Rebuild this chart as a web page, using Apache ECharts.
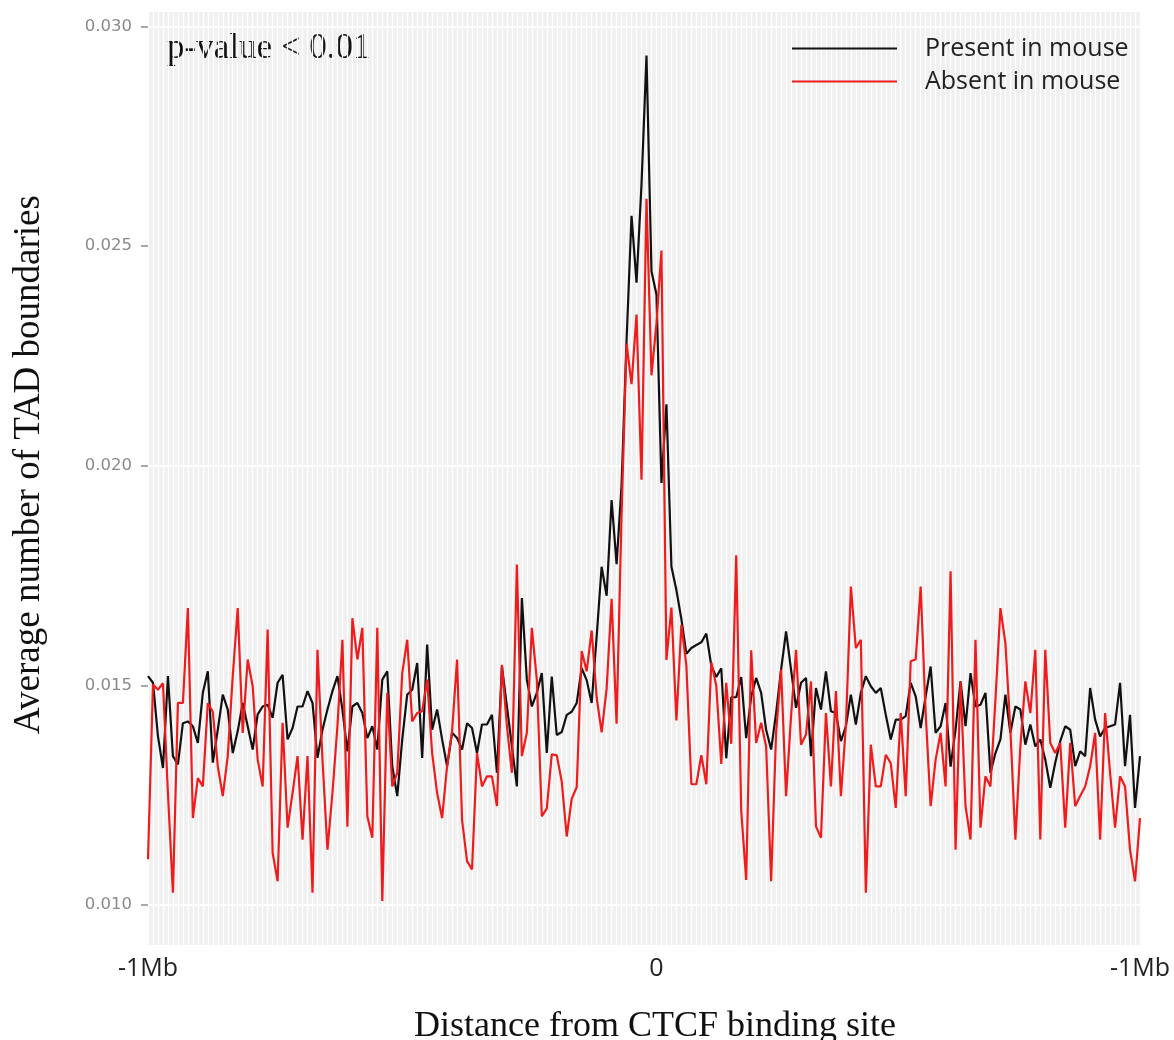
<!DOCTYPE html>
<html>
<head>
<meta charset="utf-8">
<script src="https://cdn.jsdelivr.net/npm/echarts@6/dist/echarts.min.js"></script>
<style>
  html, body { margin: 0; padding: 0; background: #ffffff; }
  #chart { width: 1174px; height: 1040px; }
</style>
</head>
<body>
<div id="chart"></div>
<script>
// ---- data ----
const presentInMouse = [
  0.01521,0.01506,0.01384,0.01312,0.01521,0.01339,0.01320,0.01414,0.01418,0.01407,
  0.01369,0.01483,0.01532,0.01324,0.01399,0.01479,0.01445,0.01346,0.01396,0.01460,
  0.01407,0.01354,0.01434,0.01452,0.01456,0.01426,0.01506,0.01524,0.01377,0.01403,
  0.01452,0.01452,0.01487,0.01460,0.01335,0.01399,0.01445,0.01487,0.01521,0.01445,
  0.01350,0.01452,0.01460,0.01437,0.01380,0.01407,0.01354,0.01513,0.01532,0.01316,
  0.01248,0.01377,0.01479,0.01490,0.01551,0.01335,0.01593,0.01399,0.01445,0.01377,
  0.01316,0.01392,0.01380,0.01354,0.01414,0.01403,0.01346,0.01411,0.01411,0.01433,
  0.01301,0.01543,0.01452,0.01361,0.01270,0.01699,0.01513,0.01452,0.01483,0.01528,
  0.01346,0.01520,0.01387,0.01394,0.01433,0.01440,0.01460,0.01539,0.01512,0.01460,
  0.01611,0.01770,0.01704,0.01922,0.01776,0.01955,0.02285,0.02569,0.02417,0.02641,
  0.02934,0.02443,0.02390,0.01961,0.02140,0.01770,0.01717,0.01651,0.01572,0.01585,
  0.01592,0.01598,0.01618,0.01545,0.01519,0.01539,0.01334,0.01473,0.01473,0.01519,
  0.01380,0.01474,0.01517,0.01483,0.01399,0.01354,0.01437,0.01536,0.01623,0.01536,
  0.01449,0.01506,0.01517,0.01339,0.01494,0.01445,0.01532,0.01441,0.01437,0.01373,
  0.01407,0.01479,0.01411,0.01483,0.01521,0.01498,0.01483,0.01494,0.01433,0.01377,
  0.01422,0.01422,0.01430,0.01506,0.01475,0.01403,0.01475,0.01543,0.01392,0.01407,
  0.01460,0.01315,0.01399,0.01509,0.01407,0.01528,0.01452,0.01456,0.01483,0.01301,
  0.01346,0.01377,0.01479,0.01392,0.01452,0.01445,0.01365,0.01411,0.01361,0.01377,
  0.01331,0.01267,0.01324,0.01373,0.01407,0.01399,0.01316,0.01350,0.01339,0.01494,
  0.01422,0.01384,0.01403,0.01407,0.01411,0.01506,0.01316,0.01433,0.01221,0.01339
];
const absentInMouse = [
  0.01104,0.01502,0.01490,0.01505,0.01255,0.01028,0.01460,0.01460,0.01676,0.01198,
  0.01289,0.01270,0.01460,0.01440,0.01316,0.01248,0.01339,0.01521,0.01676,0.01392,
  0.01559,0.01498,0.01331,0.01270,0.01627,0.01119,0.01054,0.01415,0.01176,0.01255,
  0.01339,0.01149,0.01339,0.01028,0.01581,0.01331,0.01126,0.01255,0.01407,0.01604,
  0.01178,0.01653,0.01559,0.01631,0.01202,0.01153,0.01631,0.01009,0.01483,0.01270,
  0.01301,0.01528,0.01604,0.01418,0.01437,0.01441,0.01513,0.01346,0.01255,0.01198,
  0.01316,0.01396,0.01559,0.01194,0.01100,0.01081,0.01346,0.01270,0.01293,0.01293,
  0.01225,0.01547,0.01407,0.01301,0.01775,0.01339,0.01392,0.01631,0.01513,0.01202,
  0.01220,0.01343,0.01341,0.01281,0.01156,0.01242,0.01268,0.01578,0.01532,0.01625,
  0.01473,0.01393,0.01492,0.01697,0.01413,0.01889,0.02278,0.02186,0.02344,0.01968,
  0.02608,0.02206,0.02324,0.02490,0.01558,0.01677,0.01420,0.01638,0.01545,0.01275,
  0.01275,0.01341,0.01275,0.01552,0.01499,0.01321,0.01506,0.01367,0.01796,0.01215,
  0.01057,0.01580,0.01369,0.01415,0.01361,0.01054,0.01392,0.01536,0.01248,0.01430,
  0.01581,0.01365,0.01388,0.01509,0.01179,0.01153,0.01437,0.01270,0.01487,0.01248,
  0.01407,0.01725,0.01585,0.01604,0.01028,0.01365,0.01270,0.01270,0.01342,0.01323,
  0.01221,0.01437,0.01248,0.01555,0.01559,0.01725,0.01437,0.01225,0.01331,0.01392,
  0.01270,0.01760,0.01126,0.01509,0.01225,0.01149,0.01604,0.01176,0.01293,0.01270,
  0.01468,0.01676,0.01596,0.01399,0.01149,0.01361,0.01509,0.01437,0.01581,0.01149,
  0.01581,0.01369,0.01346,0.01369,0.01176,0.01369,0.01225,0.01248,0.01270,0.01316,
  0.01392,0.01149,0.01437,0.01301,0.01176,0.01293,0.01270,0.01126,0.01054,0.01198
];
const binCount = presentInMouse.length;
const bins = [];
for (let i = 0; i < binCount; i++) bins.push('bin' + (i + 1));

const xTickIndex = [0, 102, 199];
const xTickLabels = ['-1Mb', '0', '-1Mb'];
const yTickValues = [0.010, 0.015, 0.020, 0.025, 0.030];
const yGridValues = [0.010, 0.0125, 0.015, 0.0175, 0.020, 0.0225, 0.025, 0.0275, 0.030];
const seriesNames = ['Present in mouse', 'Absent in mouse'];

// ---- chart ----
const chart = echarts.init(document.getElementById('chart'), null, { renderer: 'canvas' });

const option = {
  animation: false,
  backgroundColor: '#ffffff',
  grid: {
    left: 148, right: 34, top: 12, bottom: 95,
    outerBoundsMode: 'none',
    containLabel: false,
    show: true, backgroundColor: '#F0F0F0', borderWidth: 0
  },
  legend: {
    orient: 'vertical',
    left: 787, top: 31,
    itemWidth: 105, itemHeight: 2, itemGap: 8,
    icon: 'rect',
    padding: 5,
    textStyle: {
      fontFamily: '"Open Sans", sans-serif', fontSize: 25, color: '#222222',
      lineHeight: 25, padding: [0, 0, 0, 23]
    },
    data: seriesNames
  },
  graphic: [
    {
      type: 'text', left: 167, top: 31, silent: true,
      style: { text: 'p-value < 0.01', font: '35px "Liberation Serif", serif', fill: '#111111' }
    }
  ],
  xAxis: {
    type: 'category',
    data: bins,
    boundaryGap: false,
    axisLine: { show: false },
    axisTick: { show: false },
    axisLabel: {
      interval: (idx) => xTickIndex.indexOf(idx) >= 0,
      formatter: (val, idx) => {
        const k = xTickIndex.indexOf(idx);
        return k >= 0 ? xTickLabels[k] : '';
      },
      fontFamily: '"Open Sans", sans-serif', fontSize: 25, color: '#222222', margin: 11
    },
    splitLine: { show: true, interval: 0, lineStyle: { color: '#ffffff', width: 1.3 } },
    name: 'Distance from CTCF binding site',
    nameLocation: 'middle',
    nameGap: 64,
    nameTextStyle: {
      fontFamily: '"Liberation Serif", serif', fontSize: 36, color: '#111111',
      padding: [0, 0, 0, 22]
    }
  },
  yAxis: {
    type: 'value',
    min: 0.00909, max: 0.03033,
    axisLine: { show: false },
    axisTick: {
      show: true, length: 7, customValues: yTickValues,
      lineStyle: { color: '#8c8c8c', width: 1.5 }
    },
    axisLabel: {
      customValues: yTickValues,
      formatter: (v) => v.toFixed(3),
      fontFamily: '"DejaVu Sans", sans-serif', fontSize: 16.5, color: '#8a8a8a', margin: 16
    },
    splitLine: { show: false },
    name: 'Average number of TAD boundaries',
    nameLocation: 'middle',
    nameRotate: 90,
    nameGap: 100,
    nameTextStyle: {
      fontFamily: '"Liberation Serif", serif', fontSize: 37, color: '#111111',
      padding: [0, 0, 0, 28]
    }
  },
  series: [
    {
      name: seriesNames[0],
      type: 'line',
      data: presentInMouse,
      color: '#111111',
      symbol: 'none',
      lineStyle: { width: 2.2, color: '#111111' },
      z: 3,
      markLine: {
        silent: true, z: 1,
        symbol: ['none', 'none'],
        label: { show: false },
        lineStyle: { color: '#ffffff', type: 'solid', width: 1.6 },
        emphasis: { disabled: true },
        data: yGridValues.map(v => ({ yAxis: v }))
      }
    },
    {
      name: seriesNames[1],
      type: 'line',
      data: absentInMouse,
      color: '#EE1C1C',
      symbol: 'none',
      lineStyle: { width: 2.2, color: '#EE1C1C' },
      z: 4
    }
  ]
};
chart.setOption(option);
</script>
</body>
</html>
